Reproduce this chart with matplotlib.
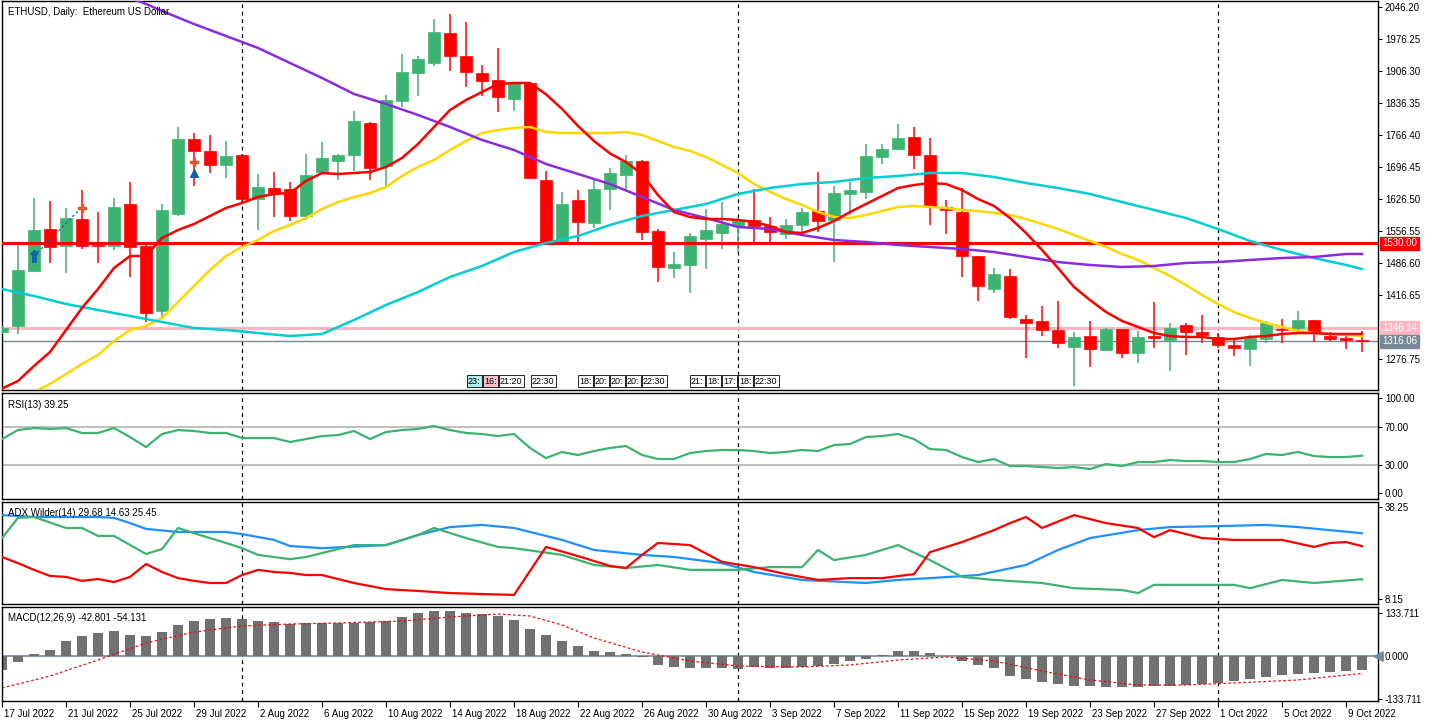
import matplotlib
matplotlib.use("Agg")
import matplotlib.pyplot as plt
import matplotlib.transforms as mtransforms
import numpy as np

plt.rcParams['font.family'] = ['Liberation Sans', 'DejaVu Sans']

# ---------------- data ----------------
date_labels = ["17 Jul 2022", "21 Jul 2022", "25 Jul 2022", "29 Jul 2022", "2 Aug 2022",
               "6 Aug 2022", "10 Aug 2022", "14 Aug 2022", "18 Aug 2022", "22 Aug 2022",
               "26 Aug 2022", "30 Aug 2022", "3 Sep 2022", "7 Sep 2022", "11 Sep 2022",
               "15 Sep 2022", "19 Sep 2022", "23 Sep 2022", "27 Sep 2022", "1 Oct 2022",
               "5 Oct 2022", "9 Oct 2022"]
month_starts = [15, 46, 76]  # 1 Aug, 1 Sep, 1 Oct (bar index)

opens = [1336.4, 1349.5, 1469.5, 1561.1, 1524.0, 1582.9, 1526.2, 1524.0, 1615.7, 1524.0,
         1382.2, 1593.9, 1757.5, 1731.3, 1700.8, 1722.6, 1626.6, 1650.6, 1648.4, 1589.5,
         1685.5, 1709.5, 1722.6, 1792.4, 1698.6, 1840.4, 1901.5, 1923.3, 1988.8, 1938.6,
         1901.5, 1886.2, 1844.8, 1879.7, 1668.1, 1532.8, 1624.4, 1574.2, 1648.4, 1679.0,
         1709.5, 1556.8, 1476.0, 1482.6, 1539.3, 1552.4, 1567.7, 1580.8, 1567.7, 1550.2,
         1569.9, 1600.4, 1580.8, 1637.5, 1641.9, 1718.2, 1735.7, 1761.9, 1722.6, 1609.1,
         1598.2, 1502.2, 1430.2, 1458.6, 1364.7, 1360.4, 1340.7, 1303.7, 1327.6, 1297.1,
         1342.9, 1290.6, 1327.6, 1318.9, 1351.6, 1336.4, 1325.5, 1308.0, 1299.3, 1321.1,
         1342.9, 1345.1, 1362.6, 1327.6, 1323.3, 1318.9]
closes = [1345.1, 1471.7, 1558.9, 1521.9, 1585.1, 1524.0, 1524.0, 1609.1, 1521.9, 1377.8,
          1602.6, 1757.5, 1731.3, 1700.8, 1720.4, 1626.6, 1652.8, 1639.7, 1589.5, 1679.0,
          1716.0, 1722.6, 1796.8, 1694.2, 1842.6, 1903.7, 1932.1, 1991.0, 1938.6, 1903.7,
          1884.1, 1849.1, 1879.7, 1672.4, 1532.8, 1615.7, 1576.4, 1648.4, 1683.3, 1709.5,
          1554.6, 1478.2, 1484.8, 1545.8, 1558.9, 1572.0, 1580.8, 1567.7, 1554.6, 1569.9,
          1598.2, 1578.6, 1639.7, 1646.2, 1720.4, 1735.7, 1759.7, 1722.6, 1609.1, 1602.6,
          1502.2, 1436.7, 1463.0, 1369.1, 1356.0, 1340.7, 1312.4, 1325.5, 1299.3, 1342.9,
          1290.6, 1325.5, 1323.3, 1345.1, 1336.4, 1329.8, 1308.0, 1301.5, 1323.3, 1356.0,
          1340.7, 1362.6, 1334.2, 1321.1, 1318.9, 1316.06]
highs = [1349.5, 1530.6, 1628.8, 1622.2, 1607.0, 1646.2, 1598.2, 1628.8, 1663.7, 1526.2,
         1615.7, 1783.7, 1770.6, 1766.2, 1753.1, 1724.8, 1681.1, 1685.5, 1663.7, 1724.8,
         1750.9, 1724.8, 1818.6, 1794.6, 1853.5, 1943.0, 1938.6, 2019.3, 2030.3, 2012.8,
         1919.0, 1956.1, 1879.7, 1881.9, 1687.7, 1641.9, 1646.2, 1672.4, 1694.2, 1722.6,
         1711.7, 1561.1, 1510.9, 1552.4, 1604.8, 1620.0, 1585.1, 1648.4, 1587.3, 1582.9,
         1607.0, 1685.5, 1654.9, 1663.7, 1746.6, 1746.6, 1790.2, 1783.7, 1759.7, 1624.4,
         1650.6, 1502.2, 1476.0, 1473.8, 1373.5, 1393.1, 1404.0, 1336.4, 1360.4, 1345.1,
         1342.9, 1338.6, 1401.8, 1356.0, 1356.0, 1373.5, 1334.2, 1318.9, 1329.8, 1360.4,
         1364.7, 1382.2, 1362.6, 1336.4, 1334.2, 1338.6]
lows = [1332.0, 1332.0, 1467.3, 1487.0, 1465.1, 1517.5, 1487.0, 1515.3, 1456.4, 1358.2,
        1369.1, 1589.5, 1654.9, 1683.3, 1672.4, 1617.9, 1558.9, 1587.3, 1578.6, 1580.8,
        1683.3, 1668.1, 1687.7, 1668.1, 1654.9, 1827.3, 1851.3, 1916.8, 1905.9, 1871.0,
        1851.3, 1816.4, 1818.6, 1670.2, 1530.6, 1528.4, 1532.8, 1563.3, 1602.6, 1648.4,
        1537.1, 1445.5, 1454.2, 1421.5, 1473.8, 1517.5, 1510.9, 1533.7, 1532.8, 1539.3,
        1554.6, 1554.6, 1489.1, 1591.7, 1626.6, 1702.9, 1733.5, 1692.0, 1569.9, 1550.2,
        1456.4, 1404.0, 1421.5, 1364.7, 1279.6, 1327.6, 1301.5, 1218.5, 1260.0, 1294.9,
        1279.6, 1268.7, 1301.5, 1251.3, 1286.2, 1312.4, 1301.5, 1284.0, 1262.2, 1312.4,
        1312.4, 1340.7, 1314.6, 1316.7, 1299.3, 1292.8]

ma_red = [1213.0, 1229.5, 1262.2, 1292.7, 1340.7, 1388.8, 1430.2, 1476.0, 1502.2, 1502.2,
          1541.5, 1558.9, 1572.0, 1589.5, 1607.0, 1617.9, 1631.0, 1637.5, 1639.7, 1665.9,
          1683.3, 1681.1, 1683.3, 1685.5, 1696.4, 1716.0, 1746.6, 1783.7, 1820.8, 1842.6,
          1860.1, 1877.5, 1879.7, 1879.7, 1855.0, 1823.0, 1786.0, 1753.0, 1726.0, 1707.0,
          1681.0, 1635.0, 1598.0, 1587.3, 1582.9, 1582.9, 1580.8, 1576.4, 1567.7, 1554.6,
          1552.4, 1563.3, 1578.6, 1598.2, 1615.7, 1633.1, 1650.6, 1657.1, 1661.5, 1659.3,
          1646.2, 1626.6, 1611.3, 1585.1, 1552.4, 1515.3, 1476.0, 1434.6, 1406.0, 1380.0,
          1360.4, 1347.3, 1334.2, 1327.6, 1325.5, 1325.5, 1321.1, 1321.1, 1325.5, 1327.6,
          1332.0, 1334.2, 1334.2, 1332.0, 1332.0, 1332.0]
ma_yellow_start = 2
ma_yellow = [1205.5, 1223.0, 1244.7, 1266.6, 1286.2, 1316.7, 1340.7, 1349.5, 1366.9, 1401.8,
             1436.7, 1471.7, 1502.2, 1521.9, 1537.1, 1556.8, 1569.9, 1585.1, 1604.8, 1620.0,
             1631.0, 1639.7, 1652.8, 1676.8, 1696.4, 1711.7, 1733.5, 1753.1, 1770.6, 1777.1,
             1781.5, 1783.7, 1772.8, 1770.6, 1770.6, 1770.6, 1770.6, 1772.8, 1766.2, 1753.1,
             1740.0, 1731.3, 1718.2, 1700.8, 1683.3, 1659.3, 1641.9, 1626.6, 1613.5, 1598.2,
             1587.3, 1585.1, 1591.7, 1600.4, 1609.1, 1611.3, 1609.1, 1607.0, 1602.6, 1600.4,
             1596.0, 1591.7, 1582.9, 1572.0, 1561.1, 1548.0, 1534.9, 1521.9, 1506.6, 1493.5,
             1476.0, 1458.6, 1438.9, 1417.1, 1397.5, 1380.0, 1366.9, 1356.0, 1347.3, 1338.6,
             1334.2, 1332.0, 1329.8, 1327.6]
ma_cyan_idx = [0, 2, 4, 6, 8, 10, 12, 14, 16, 18, 20, 22, 24, 26, 28, 30, 32, 34, 36, 38, 40, 42,
               44, 46, 48, 50, 52, 54, 56, 58, 60, 62, 64, 66, 68, 70, 72, 74, 76, 78, 80, 82, 84, 85]
ma_cyan = [1430.2, 1414.9, 1397.5, 1384.4, 1371.3, 1358.2, 1345.1, 1340.7, 1334.2, 1327.6,
           1332.0, 1362.6, 1395.3, 1423.7, 1456.4, 1480.4, 1511.0, 1530.6, 1545.8, 1569.9,
           1589.5, 1602.6, 1615.7, 1637.5, 1650.6, 1659.3, 1663.7, 1672.4, 1676.8, 1683.3,
           1683.3, 1674.6, 1661.5, 1650.6, 1637.5, 1620.0, 1602.6, 1585.1, 1561.1, 1535.0,
           1515.3, 1497.8, 1482.6, 1473.8]
ma_purple_idx = [8, 9, 10, 12, 14, 16, 18, 20, 22, 24, 26, 28, 30, 32, 34, 36, 38, 40, 42, 44, 46,
                 48, 50, 52, 54, 56, 58, 60, 62, 64, 66, 68, 70, 72, 74, 76, 78, 80, 82, 84, 85]
ma_purple = [2065.2, 2052.1, 2036.8, 2008.4, 1982.2, 1956.1, 1923.3, 1890.6, 1855.7, 1833.9,
             1809.9, 1783.7, 1755.3, 1733.5, 1703.0, 1681.1, 1659.3, 1631.0, 1602.6, 1585.1,
             1565.5, 1561.1, 1548.0, 1537.1, 1532.8, 1526.2, 1521.9, 1517.5, 1510.9, 1500.0,
             1489.1, 1482.6, 1478.2, 1480.4, 1487.0, 1489.1, 1493.5, 1497.8, 1500.0, 1506.6, 1506.6]

level_red = 1530.00
level_ask = 1346.14
level_bid = 1316.06
price_ticks = [2046.20, 1976.25, 1906.30, 1836.35, 1766.40, 1696.45, 1626.50, 1556.55,
               1486.60, 1416.65, 1276.75]

trade_idx = [2, 5]
trade_px = [1502.0, 1609.0]
sell_marks_idx = [5, 12]
sell_marks_px = [1607.0, 1707.0]
buy_marks_idx = [12]
buy_marks_px = [1683.0]

rsi = [56.8, 66.3, 68.4, 67.4, 68.4, 63.2, 63.2, 68.4, 58.9, 48.4,
       62.1, 66.3, 65.3, 63.2, 63.2, 57.9, 57.9, 57.9, 53.7, 56.8,
       60.0, 61.0, 65.3, 56.8, 64.2, 66.3, 67.4, 70.5, 66.3, 63.2,
       62.1, 60.0, 62.1, 47.4, 36.8, 43.2, 40.0, 44.2, 47.4, 49.5,
       40.0, 35.8, 35.8, 42.1, 44.2, 45.3, 45.3, 44.2, 42.1, 43.2,
       45.3, 44.2, 50.5, 51.6, 58.9, 60.0, 62.1, 56.8, 46.3, 45.3,
       37.9, 32.6, 35.8, 28.4, 28.4, 27.4, 26.3, 27.4, 25.3, 30.5,
       28.4, 32.6, 32.6, 34.7, 33.7, 33.7, 32.6, 32.6, 35.8, 41.1,
       40.0, 43.2, 38.9, 37.9, 37.9, 39.25]
rsi_levels = [70, 30]

adx_idx = [0, 2, 4, 6, 7, 8, 9, 11, 14, 15, 17, 18, 20, 24, 26, 28, 30, 32, 35, 37, 40, 42, 45,
           47, 50, 54, 56, 58, 61, 64, 66, 68, 71, 73, 76, 79, 81, 85]
adx = [35.6, 35.0, 35.0, 35.0, 34.7, 33.0, 31.1, 30.1, 30.1, 29.4, 27.5, 25.5, 24.8, 25.8, 29.1,
       31.7, 32.4, 31.4, 27.5, 24.2, 22.6, 21.9, 19.9, 17.0, 14.4, 13.4, 14.4, 15.0, 16.0, 19.3,
       24.2, 28.1, 30.7, 31.7, 32.0, 32.4, 31.7, 29.68]
pdi_idx = [0, 1, 2, 4, 5, 6, 7, 9, 10, 11, 12, 14, 15, 16, 18, 19, 20, 22, 24, 26, 27, 29, 31,
           32, 35, 37, 39, 41, 43, 46, 48, 50, 51, 52, 54, 56, 58, 60, 62, 65, 67, 70, 71, 72,
           75, 77, 78, 80, 82, 85]
pdi = [28.1, 34.7, 35.0, 31.4, 31.4, 28.8, 28.8, 22.9, 24.5, 31.4, 29.7, 26.5, 24.8, 22.6, 21.2,
       21.9, 23.2, 25.8, 25.8, 29.1, 31.4, 28.1, 25.2, 24.8, 22.6, 19.3, 18.3, 19.3, 17.7, 17.7,
       18.6, 18.6, 24.2, 20.9, 22.6, 25.8, 20.9, 15.4, 14.4, 13.4, 11.7, 11.1, 10.1, 12.8, 12.8,
       12.8, 11.7, 14.4, 13.4, 14.63]
mdi_idx = [0, 1, 2, 3, 4, 5, 6, 7, 8, 9, 10, 11, 12, 13, 14, 15, 16, 17, 18, 19, 20, 22, 24, 26,
           28, 30, 32, 34, 36, 38, 39, 40, 41, 43, 45, 47, 49, 51, 53, 55, 57, 58, 60, 62, 63, 64,
           65, 67, 69, 71, 72, 73, 75, 77, 80, 82, 83, 84, 85]
mdi = [21.9, 19.9, 17.7, 15.7, 15.4, 14.1, 14.7, 13.7, 15.4, 19.6, 17.0, 15.0, 14.1, 13.4, 13.4,
       16.0, 17.7, 17.0, 16.7, 16.0, 16.0, 13.4, 11.4, 10.8, 10.1, 9.8, 9.5, 25.2, 22.2, 19.0,
       18.3, 22.6, 26.5, 25.8, 20.3, 18.6, 16.3, 14.4, 15.0, 15.0, 16.3, 23.5, 26.8, 30.7, 33.0,
       35.0, 31.4, 35.6, 33.0, 31.4, 28.4, 30.7, 28.1, 27.5, 27.5, 25.2, 26.5, 26.8, 25.45]
adx_ticks = [38.25, 8.15]

macd = [-44.0, -20.0, 5.0, 18.7, 46.7, 62.2, 71.5, 77.8, 65.3, 62.2,
        74.6, 96.4, 108.9, 115.1, 118.2, 115.1, 108.9, 105.7, 99.5, 102.6,
        102.6, 102.6, 102.6, 105.7, 108.9, 121.3, 133.7, 140.0, 140.0, 133.7,
        130.6, 124.4, 112.0, 84.0, 65.3, 46.7, 31.1, 15.6, 12.4, 6.2,
        -3.0, -28.0, -34.2, -37.3, -37.3, -37.3, -40.4, -34.2, -37.3, -37.3,
        -34.2, -31.1, -24.9, -15.6, -9.3, 3.0, 15.6, 15.6, 9.3, 1.0,
        -15.6, -28.0, -37.3, -62.2, -71.5, -80.9, -87.1, -93.3, -93.3, -96.4,
        -96.4, -96.4, -93.3, -93.3, -90.2, -87.1, -84.0, -77.8, -71.5, -65.3,
        -59.1, -56.0, -52.9, -49.8, -46.7, -42.801]
signal_idx = [0, 3, 6, 9, 12, 15, 18, 21, 25, 28, 31, 33, 35, 37, 40, 43, 46, 50, 53, 56, 59,
              62, 65, 68, 71, 74, 77, 81, 85]
signal = [-99.5, -62.2, -12.4, 40.4, 74.6, 93.3, 99.5, 102.6, 108.9, 121.3, 130.6, 124.4, 96.4,
          56.0, 12.4, -15.6, -31.1, -34.2, -28.0, -12.4, -3.1, -15.6, -46.7, -74.6, -90.2, -90.2,
          -84.0, -74.6, -54.131]
macd_ticks = [133.711, 0.0, -133.711]

# ---------------- figure ----------------
W, H = 1432, 726
fig = plt.figure(figsize=(W / 100, H / 100), dpi=100)
fig.patch.set_facecolor('white')


def rect(top, bottom, left=2, right=1378):
    return [left / W, 1 - bottom / H, (right - left) / W, (bottom - top) / H]


ax = fig.add_axes(rect(1, 390))
ax_rsi = fig.add_axes(rect(393, 499))
ax_adx = fig.add_axes(rect(502, 604))
ax_macd = fig.add_axes(rect(607, 701))
axes = [ax, ax_rsi, ax_adx, ax_macd]

n = len(opens)
x = np.arange(n)
GREEN = '#3CB371'
RED = '#FF0000'
LABEL_FS = 7

for a in axes:
    a.set_xlim(0, 86)
    a.yaxis.tick_right()
    a.tick_params(axis='y', direction='out', length=3, width=0.8, labelsize=7, pad=2,
                  colors='black')
    a.tick_params(axis='x', length=0, labelbottom=False)
    for s in a.spines.values():
        s.set_color('black')
        s.set_linewidth(1.0)
    for m in month_starts:
        a.axvline(m, color='black', lw=0.9, ls=(0, (3, 3)), zorder=1)

# ---- main price panel ----
ax.set_ylim(1209.8, 2058.6)
o = np.array(opens); c = np.array(closes); h = np.array(highs); l = np.array(lows)
up = c >= o
cols = np.where(up, GREEN, RED)
ax.vlines(x, l, h, colors=cols, lw=1.1, zorder=3)
body_lo = np.minimum(o, c)
body_h = np.maximum(np.abs(c - o), 1.6)
ax.bar(x, body_h, bottom=body_lo, width=0.7, color=cols, edgecolor=cols, lw=0.5, zorder=4)

ax.axhline(level_ask, color='#FFB6C1', lw=2.2, zorder=2)
ax.axhline(level_bid, color='#778899', lw=1.0, zorder=2)
ax.axhline(level_red, color=RED, lw=2.2, zorder=5)

ax.plot(np.arange(ma_yellow_start, ma_yellow_start + len(ma_yellow)), ma_yellow,
        color='#FFD700', lw=1.8, zorder=6)
ax.plot(ma_cyan_idx, ma_cyan, color='#00CED1', lw=1.8, zorder=6)
ax.plot(ma_purple_idx, ma_purple, color='#8A2BE2', lw=1.8, zorder=6)
ax.plot(x, ma_red, color=RED, lw=1.8, zorder=7)

ax.plot(trade_idx, trade_px, color='#1060B0', lw=0.9, ls=(0, (2, 2)), zorder=8)
ax.scatter(trade_idx[:1], trade_px[:1], marker=r'$\Uparrow$', s=70, color='#1060B0', zorder=9)
ax.scatter(sell_marks_idx, sell_marks_px, marker='P', s=28, color='#E8562A', zorder=9)
ax.scatter(buy_marks_idx, buy_marks_px, marker='^', s=30, color='#1060B0', zorder=9)

ax.set_yticks(price_ticks)
ax.set_yticklabels([f"{v:.2f}" for v in price_ticks])

ax.text(0.004, 0.985, "ETHUSD, Daily:  Ethereum US Dollar", transform=ax.transAxes,
        ha='left', va='top', fontsize=LABEL_FS, color='black', zorder=10)

tr = mtransforms.blended_transform_factory(ax.transAxes, ax.transData)
for val, fc in [(level_red, RED), (level_ask, '#FFB6C1'), (level_bid, '#778899')]:
    ax.text(1.003, val, f"{val:.2f}", transform=tr, ha='left', va='center', fontsize=7,
            color='white', clip_on=False,
            bbox=dict(boxstyle='square,pad=0.18', fc=fc, ec=fc))

# session boxes
sessions = [(467, "23:", '#AFEEEE'), (483, "16:", '#FFC0CB'), (499, "21:20", 'white'),
            (531, "22:30", 'white'),
            (578, "18:", 'white'), (594, "20:", 'white'), (610, "20:", 'white'),
            (626, "20:", 'white'), (642, "22:30", 'white'),
            (690, "21:", 'white'), (706, "18:", 'white'), (722, "17:", 'white'),
            (738, "18:", 'white'), (754, "22:30", 'white')]
for px, lab, fc in sessions:
    fig.text((px + 1) / W, 1 - 381 / H, lab, ha='left', va='center', fontsize=6.5,
             color='black', bbox=dict(boxstyle='square,pad=0.12', fc=fc, ec='black', lw=0.6))

# ---- RSI ----
ax_rsi.set_ylim(-6.3, 105.3)
for lv in rsi_levels:
    ax_rsi.axhline(lv, color='#C0C0C0', lw=1.5, zorder=1)
ax_rsi.plot(x, rsi, color=GREEN, lw=1.6, zorder=3)
ax_rsi.set_yticks([100, 70, 30, 0])
ax_rsi.set_yticklabels(["100.00", "70.00", "30.00", "0.00"])
ax_rsi.text(0.004, 0.93, "RSI(13) 39.25", transform=ax_rsi.transAxes, ha='left', va='top',
            fontsize=LABEL_FS)

# ---- ADX ----
ax_adx.set_ylim(6.53, 39.9)
ax_adx.plot(adx_idx, adx, color='#1E90FF', lw=1.6, zorder=3)
ax_adx.plot(pdi_idx, pdi, color=GREEN, lw=1.6, zorder=3)
ax_adx.plot(mdi_idx, mdi, color=RED, lw=1.6, zorder=3)
ax_adx.set_yticks(adx_ticks)
ax_adx.set_yticklabels([f"{v:.2f}" for v in adx_ticks])
ax_adx.text(0.004, 0.94, "ADX Wilder(14) 29.68 14.63 25.45", transform=ax_adx.transAxes,
            ha='left', va='top', fontsize=LABEL_FS)

# ---- MACD ----
ax_macd.set_ylim(-140.0, 152.4)
ax_macd.axhline(0, color='#778899', lw=1.2, zorder=1)
ax_macd.bar(x, macd, width=0.68, color='#707070', zorder=2)
ax_macd.plot(signal_idx, signal, color=RED, lw=0.9, ls=(0, (2, 2)), zorder=3)
ax_macd.scatter([86], [0], marker='<', s=45, color='#778899', clip_on=False, zorder=5)
ax_macd.set_yticks(macd_ticks)
ax_macd.set_yticklabels([f"{v:.3f}" for v in macd_ticks])
ax_macd.text(0.004, 0.94, "MACD(12,26,9) -42.801 -54.131", transform=ax_macd.transAxes,
             ha='left', va='top', fontsize=LABEL_FS)

ax_macd.set_xticks(np.arange(0, 4 * len(date_labels), 4))
ax_macd.set_xticklabels(date_labels)
ax_macd.tick_params(axis='x', length=4, width=0.8, direction='out', labelbottom=True,
                    labelsize=7, pad=2)
offset = mtransforms.ScaledTranslation(2 / 100, 0, fig.dpi_scale_trans)
for lab in ax_macd.get_xticklabels():
    lab.set_horizontalalignment('left')
    lab.set_transform(lab.get_transform() + offset)

fig.savefig("out.png", dpi=100, facecolor='white')
